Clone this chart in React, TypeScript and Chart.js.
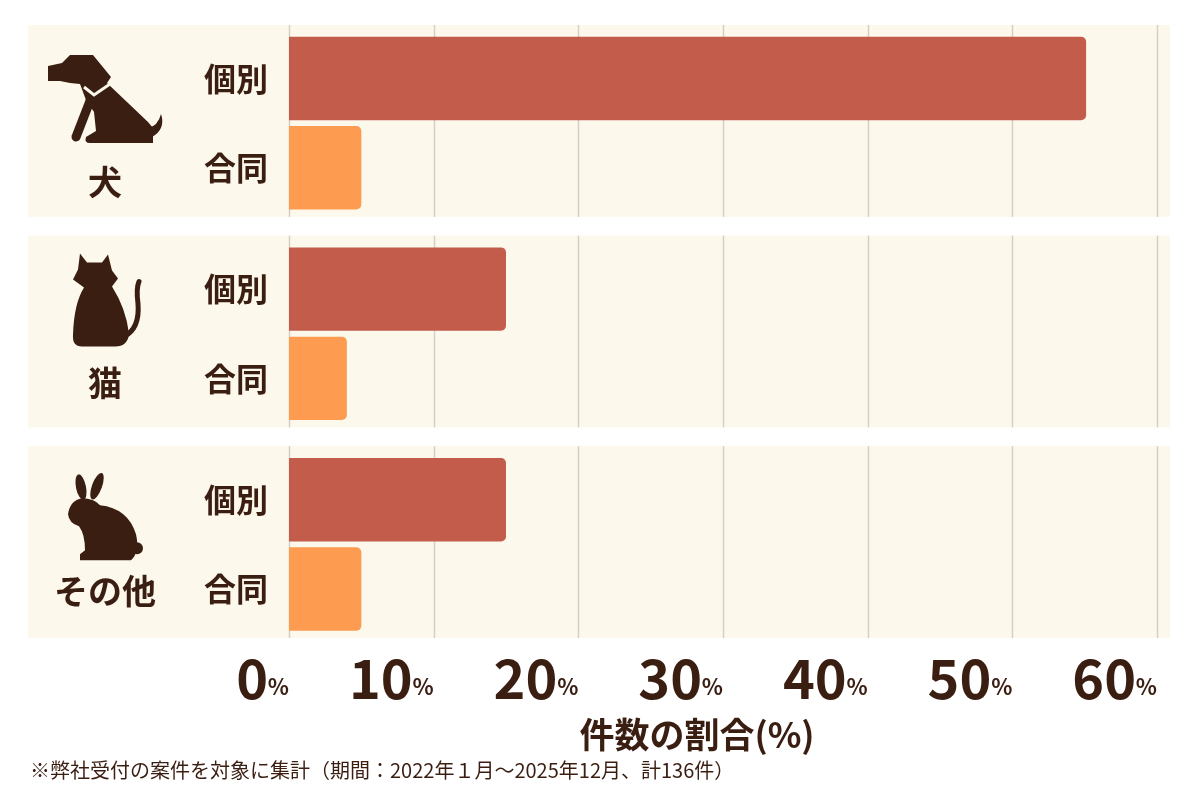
import { useEffect, useRef } from "react";
import { Chart, registerables } from "chart.js";

Chart.register(...registerables);

// data
const groups = ["犬", "猫", "その他"];
const kinds = ["個別", "合同"];
const kobetsu = [55.1, 15.0, 15.0];
const goudou = [5.0, 4.0, 5.0];
const xTicks = [0, 10, 20, 30, 40, 50, 60];
const axisTitle = "件数の割合(%)";
const note = "※弊社受付の案件を対象に集計（期間：2022年１月～2025年12月、計136件）";

// layout of the index axis: bars one unit apart, groups a bit further
const GROUP_STEP = 2.36;
const PAD_TOP = 0.6;
const PAD_BOTTOM = 0.55;
const pos = (g: number, k: number) => g * GROUP_STEP + k;

const INK = "#3B1E12";
const PANEL = "#FDF8EC";
const GRID = "#D5CEC4";
const RED = "#C45C4B";
const ORANGE = "#FD9C51";
const FONT = '"Noto Sans CJK JP", "Noto Sans", sans-serif';

type Ctx = CanvasRenderingContext2D;

// silhouettes, drawn in reference pixel coords relative to their panel top
function drawDog(ctx: Ctx) {
  ctx.beginPath();
  ctx.moveTo(48, 41);
  ctx.lineTo(62, 38);
  ctx.lineTo(70, 30);
  ctx.lineTo(93, 30);
  ctx.lineTo(111, 52);
  ctx.lineTo(107, 58);
  ctx.lineTo(148, 97);
  ctx.lineTo(153, 103);
  ctx.lineTo(153, 118);
  ctx.lineTo(90, 118);
  ctx.quadraticCurveTo(84, 118, 86, 112);
  ctx.lineTo(96, 106);
  ctx.lineTo(94, 87);
  ctx.lineTo(86, 75);
  ctx.lineTo(80, 59);
  ctx.lineTo(70, 58);
  ctx.lineTo(60, 56);
  ctx.lineTo(48, 56);
  ctx.closePath();
  ctx.fill();
  // front leg
  ctx.lineCap = "round";
  ctx.lineWidth = 9;
  ctx.beginPath();
  ctx.moveTo(90, 76);
  ctx.lineTo(76, 112);
  ctx.stroke();
  // tail
  ctx.beginPath();
  ctx.moveTo(148, 103);
  ctx.quadraticCurveTo(158, 101, 161, 89);
  ctx.quadraticCurveTo(166, 104, 152, 112);
  ctx.closePath();
  ctx.fill();
  // collar
  ctx.strokeStyle = PANEL;
  ctx.lineWidth = 3;
  ctx.lineCap = "butt";
  ctx.beginPath();
  ctx.moveTo(84, 62);
  ctx.lineTo(94, 70);
  ctx.lineTo(110, 59);
  ctx.stroke();
}

function drawCat(ctx: Ctx) {
  ctx.beginPath();
  ctx.moveTo(80, 18);
  ctx.lineTo(87, 27);
  ctx.lineTo(102, 27);
  ctx.lineTo(108, 19);
  ctx.lineTo(112, 35);
  ctx.lineTo(118, 43);
  ctx.lineTo(112, 51);
  ctx.quadraticCurveTo(126, 73, 129, 98);
  ctx.quadraticCurveTo(128, 111, 115, 111);
  ctx.lineTo(82, 111);
  ctx.quadraticCurveTo(72, 111, 73, 99);
  ctx.quadraticCurveTo(74, 68, 84, 52);
  ctx.lineTo(73, 44);
  ctx.lineTo(78, 34);
  ctx.closePath();
  ctx.fill();
  ctx.lineCap = "round";
  ctx.lineWidth = 5;
  ctx.beginPath();
  ctx.moveTo(124, 101);
  ctx.quadraticCurveTo(140, 93, 138, 68);
  ctx.quadraticCurveTo(136, 53, 139, 46);
  ctx.stroke();
}

function drawRabbit(ctx: Ctx) {
  const ell = (x: number, y: number, rx: number, ry: number, r: number) => {
    ctx.beginPath();
    ctx.ellipse(x, y, rx, ry, r, 0, Math.PI * 2);
    ctx.fill();
  };
  ell(81, 41, 5, 13, -0.2);
  ell(97, 40, 5, 14, 0.35);
  ell(137, 102, 6, 6, 0);
  ctx.beginPath();
  ctx.moveTo(68, 68);
  ctx.quadraticCurveTo(70, 54, 82, 52);
  ctx.quadraticCurveTo(94, 52, 100, 59);
  ctx.quadraticCurveTo(128, 62, 136, 88);
  ctx.quadraticCurveTo(140, 106, 131, 114);
  ctx.lineTo(80, 114);
  ctx.lineTo(80, 108);
  ctx.lineTo(85, 104);
  ctx.quadraticCurveTo(85, 88, 79, 80);
  ctx.quadraticCurveTo(69, 77, 68, 68);
  ctx.closePath();
  ctx.fill();
}

const icons = [drawDog, drawCat, drawRabbit];
const labelOffsets = [157, 147, 145];

const decorPlugin = {
  id: "decor",
  beforeDraw(chart: Chart) {
    const { ctx, width, height } = chart;
    const x = chart.scales.x;
    const y = chart.scales.y;
    ctx.save();
    ctx.fillStyle = "#FFFFFF";
    ctx.fillRect(0, 0, width, height);
    groups.forEach((_, g) => {
      const top = y.getPixelForValue(pos(g, 0) - PAD_TOP);
      const bottom = y.getPixelForValue(pos(g, 1) + PAD_BOTTOM);
      ctx.fillStyle = PANEL;
      ctx.fillRect(28, top, 1170 - 28, bottom - top);
      ctx.strokeStyle = GRID;
      ctx.lineWidth = 1.5;
      xTicks.forEach((v) => {
        const px = Math.round(x.getPixelForValue(v)) + 0.5;
        ctx.beginPath();
        ctx.moveTo(px, top);
        ctx.lineTo(px, bottom);
        ctx.stroke();
      });
    });
    ctx.restore();
  },
  afterDraw(chart: Chart) {
    const { ctx } = chart;
    const x = chart.scales.x;
    const y = chart.scales.y;
    ctx.save();
    groups.forEach((name, g) => {
      const top = y.getPixelForValue(pos(g, 0) - PAD_TOP);
      ctx.save();
      ctx.translate(0, top);
      ctx.fillStyle = INK;
      ctx.strokeStyle = INK;
      icons[g](ctx);
      ctx.restore();
      ctx.fillStyle = INK;
      ctx.font = `bold 34px ${FONT}`;
      ctx.textAlign = "center";
      ctx.textBaseline = "middle";
      ctx.fillText(name, 105, top + labelOffsets[g]);
    });
    // small % after each tick number
    ctx.font = `bold 22px ${FONT}`;
    ctx.textAlign = "right";
    ctx.textBaseline = "alphabetic";
    xTicks.forEach((v) => {
      ctx.fillText("%", x.getPixelForValue(v), x.top + 57);
    });
    ctx.font = `bold 35px ${FONT}`;
    ctx.textAlign = "center";
    ctx.textBaseline = "middle";
    ctx.fillText(axisTitle, 697, 735);
    ctx.font = `20px ${FONT}`;
    ctx.textAlign = "left";
    ctx.fillText(note, 30, 770);
    ctx.restore();
  },
};

export default function App() {
  const chartRef = useRef<HTMLCanvasElement>(null);

  useEffect(() => {
    if (!chartRef.current) return;

    const chart = new Chart(chartRef.current, {
      type: "bar",
      data: {
        datasets: [
          {
            label: kinds[0],
            data: kobetsu.map((v, g) => ({ x: v, y: pos(g, 0) })),
            backgroundColor: RED,
          },
          {
            label: kinds[1],
            data: goudou.map((v, g) => ({ x: v, y: pos(g, 1) })),
            backgroundColor: ORANGE,
          },
        ],
      },
      options: {
        indexAxis: "y",
        animation: false,
        responsive: true,
        maintainAspectRatio: false,
        grouped: false,
        categoryPercentage: 1,
        barPercentage: 0.935,
        borderRadius: 5,
        borderSkipped: "start",
        layout: { padding: { top: 25, right: 43, left: 0, bottom: 0 } },
        plugins: { legend: { display: false }, tooltip: { enabled: false } },
        scales: {
          x: {
            type: "linear",
            min: 0,
            max: 60,
            afterBuildTicks: (s: any) => {
              s.ticks = xTicks.map((v) => ({ value: v }));
            },
            afterFit: (s: any) => {
              s.height = 162;
            },
            grid: { display: false, drawTicks: false },
            border: { display: false },
            ticks: {
              autoSkip: false,
              maxRotation: 0,
              align: "end",
              labelOffset: -21,
              padding: 8,
              color: INK,
              font: { family: FONT, size: 54, weight: "bold" },
              callback: (v: any) => String(v),
            },
          },
          y: {
            type: "linear",
            reverse: true,
            offset: false,
            min: -PAD_TOP,
            max: pos(groups.length - 1, 1) + PAD_BOTTOM,
            afterBuildTicks: (s: any) => {
              s.ticks = groups.flatMap((_, g) => kinds.map((_, k) => ({ value: pos(g, k) })));
            },
            afterFit: (s: any) => {
              s.width = 289;
              s.paddingTop = 0;
              s.paddingBottom = 0;
            },
            grid: { display: false, drawTicks: false, offset: false },
            border: { display: false },
            ticks: {
              autoSkip: false,
              padding: 21,
              color: INK,
              font: { family: FONT, size: 32, weight: "bold" },
              callback: (_v: any, i: number) => kinds[i % kinds.length],
            },
          },
        },
      } as any,
      plugins: [decorPlugin],
    });

    return () => chart.destroy();
  }, []);

  return (
    <div style={{ position: "absolute", left: 0, top: 0, width: 1200, height: 800 }}>
      <canvas ref={chartRef} />
    </div>
  );
}
